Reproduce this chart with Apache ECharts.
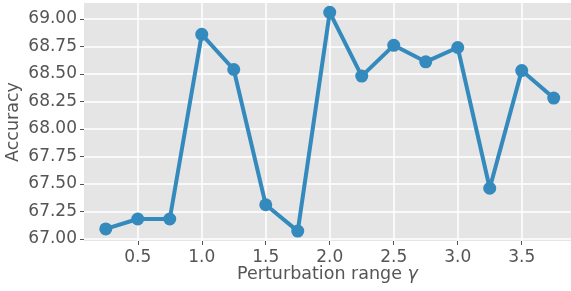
<!DOCTYPE html>
<html><head><meta charset="utf-8">
<script src="https://cdn.jsdelivr.net/npm/echarts@6/dist/echarts.min.js"></script>
<style>html,body{margin:0;padding:0;background:#fff}#c{width:571px;height:291px}</style>
</head><body><div id="c"></div>
<script>
const gammaValues = [0.25,0.5,0.75,1.0,1.25,1.5,1.75,2.0,2.25,2.5,2.75,3.0,3.25,3.5,3.75];
const accuracy = [67.09,67.18,67.18,68.86,68.54,67.31,67.07,69.06,68.48,68.76,68.61,68.74,67.46,68.53,68.28];
const xTicks = [0.5,1.0,1.5,2.0,2.5,3.0,3.5];
const yTicks = [67.00,67.25,67.50,67.75,68.00,68.25,68.50,68.75,69.00];

const chart = echarts.init(document.getElementById('c'), null, {renderer:'canvas'});
const tickColor = '#555555';
chart.setOption({
  animation:false,
  backgroundColor:'#ffffff',
  grid:{left:84,right:0,top:3,bottom:50,show:true,backgroundColor:'#E5E5E5',borderWidth:0,containLabel:false,outerBoundsMode:'none'},
  xAxis:{
    type:'value', min:0.08, max:3.885,
    name:'Perturbation range {g|γ}', nameLocation:'middle', nameGap:24, nameMoveOverlap:false,
    nameTextStyle:{color:tickColor,fontSize:17.5,fontFamily:'DejaVu Sans',rich:{g:{fontStyle:'italic',fontSize:17.5,color:tickColor,fontFamily:'DejaVu Sans'}}},
    axisLine:{show:false},
    axisTick:{show:true,length:4,lineStyle:{color:tickColor,width:1},customValues:xTicks},
    axisLabel:{customValues:xTicks,color:tickColor,fontSize:17,fontFamily:'DejaVu Sans',margin:8,formatter:v=>v.toFixed(1)},
    splitLine:{show:true,lineStyle:{color:'#ffffff',width:1.5}}
  },
  yAxis:{
    type:'value', min:66.98, max:69.145,
    name:'Accuracy', nameLocation:'middle', nameGap:62, nameRotate:90, nameMoveOverlap:false,
    nameTextStyle:{color:tickColor,fontSize:17.5,fontFamily:'DejaVu Sans'},
    axisLine:{show:false},
    axisTick:{show:true,length:4,lineStyle:{color:tickColor,width:1},customValues:yTicks},
    axisLabel:{customValues:yTicks,color:tickColor,fontSize:17,fontFamily:'DejaVu Sans',margin:7,formatter:v=>v.toFixed(2)},
    splitLine:{show:true,lineStyle:{color:'#ffffff',width:1.5}}
  },
  series:[{
    type:'line',
    data:gammaValues.map((g,i)=>[g,accuracy[i]]),
    symbol:'circle', symbolSize:13,
    lineStyle:{color:'#348ABD',width:4},
    itemStyle:{color:'#348ABD'},
    clip:false
  }]
});
</script></body></html>
